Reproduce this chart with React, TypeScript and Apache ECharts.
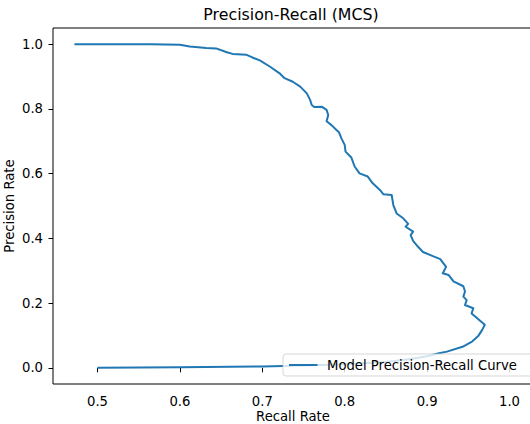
import React, { useEffect, useRef } from "react";
import * as echarts from "echarts";

const chartTitle = "Precision-Recall (MCS)";
const xAxisName = "Recall Rate";
const yAxisName = "Precision Rate";
const seriesName = "Model Precision-Recall Curve";

const xTicks = [0.5, 0.6, 0.7, 0.8, 0.9, 1.0];
const yTicks = [0.0, 0.2, 0.4, 0.6, 0.8, 1.0];

const recallValues = [
  0.472, 0.565, 0.600, 0.612, 0.632, 0.644, 0.657, 0.664, 0.681, 0.688,
  0.697, 0.709, 0.721, 0.727, 0.737, 0.746, 0.754, 0.758, 0.760, 0.763,
  0.772, 0.778, 0.780, 0.778, 0.784, 0.790, 0.793, 0.796, 0.800, 0.801,
  0.808, 0.812, 0.818, 0.828, 0.834, 0.843, 0.847, 0.857, 0.859, 0.863,
  0.871, 0.877, 0.874, 0.883, 0.880, 0.883, 0.889, 0.895, 0.907, 0.916,
  0.923, 0.919, 0.926, 0.932, 0.944, 0.946, 0.944, 0.948, 0.946, 0.956,
  0.954, 0.970,
  0.967, 0.962, 0.955, 0.943, 0.924, 0.913, 0.900, 0.880, 0.850, 0.800,
  0.750, 0.700, 0.600, 0.500,
];

const precisionValues = [
  1.000, 1.000, 0.998, 0.993, 0.988, 0.987, 0.975, 0.970, 0.967, 0.959,
  0.950, 0.931, 0.910, 0.895, 0.884, 0.869, 0.848, 0.828, 0.812, 0.806,
  0.807, 0.797, 0.781, 0.762, 0.750, 0.735, 0.728, 0.709, 0.689, 0.668,
  0.650, 0.622, 0.601, 0.591, 0.570, 0.549, 0.536, 0.534, 0.503, 0.477,
  0.462, 0.445, 0.436, 0.421, 0.410, 0.392, 0.374, 0.358, 0.345, 0.336,
  0.312, 0.292, 0.287, 0.267, 0.252, 0.236, 0.220, 0.209, 0.194, 0.184,
  0.168, 0.133,
  0.118, 0.098, 0.082, 0.065, 0.050, 0.044, 0.036, 0.027, 0.018, 0.011,
  0.007, 0.004, 0.002, 0.000,
];

const FONT = "DejaVu Sans";

export default function App() {
  const ref = useRef<HTMLDivElement>(null);

  useEffect(() => {
    if (!ref.current) return;
    const chart = echarts.init(ref.current, undefined, { renderer: "svg" });
    const data = recallValues.map((r, i) => [r, precisionValues[i]]);
    chart.setOption({
      animation: false,
      backgroundColor: "#ffffff",
      title: {
        text: chartTitle,
        left: 291,
        top: 6,
        padding: 0,
        textAlign: "center",
        textStyle: { fontFamily: FONT, fontSize: 15.8, fontWeight: "normal", color: "#000" },
      },
      grid: {
        left: 53,
        top: 28,
        width: 480,
        height: 356,
        containLabel: false,
        outerBoundsMode: "none",
        show: true,
        borderColor: "#000",
        borderWidth: 1,
        backgroundColor: "transparent",
      },
      xAxis: {
        type: "value",
        min: 0.446,
        max: 1.0285,
        name: xAxisName,
        nameLocation: "middle",
        nameGap: 26,
        nameMoveOverlap: false,
        nameTextStyle: { fontFamily: FONT, fontSize: 13.2, color: "#000" },
        axisLine: { show: false },
        splitLine: { show: false },
        axisTick: { show: true, inside: false, length: 4.5, lineStyle: { color: "#000" }, customValues: xTicks },
        axisLabel: {
          customValues: xTicks,
          margin: 10.5,
          fontFamily: FONT,
          fontSize: 13.2,
          color: "#000",
          formatter: (v: number) => v.toFixed(1),
        },
      },
      yAxis: {
        type: "value",
        min: -0.05,
        max: 1.05,
        name: yAxisName,
        nameLocation: "middle",
        nameGap: 37,
        nameMoveOverlap: false,
        nameTextStyle: { fontFamily: FONT, fontSize: 13.2, color: "#000" },
        axisLine: { show: false },
        splitLine: { show: false },
        axisTick: { show: true, inside: false, length: 4.5, lineStyle: { color: "#000" }, customValues: yTicks },
        axisLabel: {
          customValues: yTicks,
          margin: 10,
          fontFamily: FONT,
          fontSize: 13.2,
          color: "#000",
          formatter: (v: number) => v.toFixed(1),
        },
      },
      legend: {
        left: 283,
        top: 354,
        orient: "horizontal",
        padding: [4.5, 24, 4.5, 5],
        itemWidth: 28.5,
        itemHeight: 14,
        backgroundColor: "rgba(255,255,255,0.8)",
        borderColor: "rgba(204,204,204,0.8)",
        borderWidth: 1,
        borderRadius: 3,
        itemStyle: { color: "rgba(0,0,0,0)", borderWidth: 0, opacity: 0 },
        lineStyle: { color: "#1f77b4", width: 2 },
        textStyle: { fontFamily: FONT, fontSize: 13.2, color: "#000", padding: [0, 0, 0, 4.5] },
        data: [seriesName],
      },
      series: [
        {
          name: seriesName,
          type: "line",
          data,
          symbol: "none",
          showSymbol: false,
          smooth: false,
          lineStyle: { color: "#1f77b4", width: 2, join: "round" },
          itemStyle: { color: "#1f77b4" },
          z: 2,
        },
      ],
    });
    return () => chart.dispose();
  }, []);

  return (
    <div
      ref={ref}
      style={{ position: "fixed", left: 0, top: 0, width: 530, height: 424 }}
    />
  );
}
